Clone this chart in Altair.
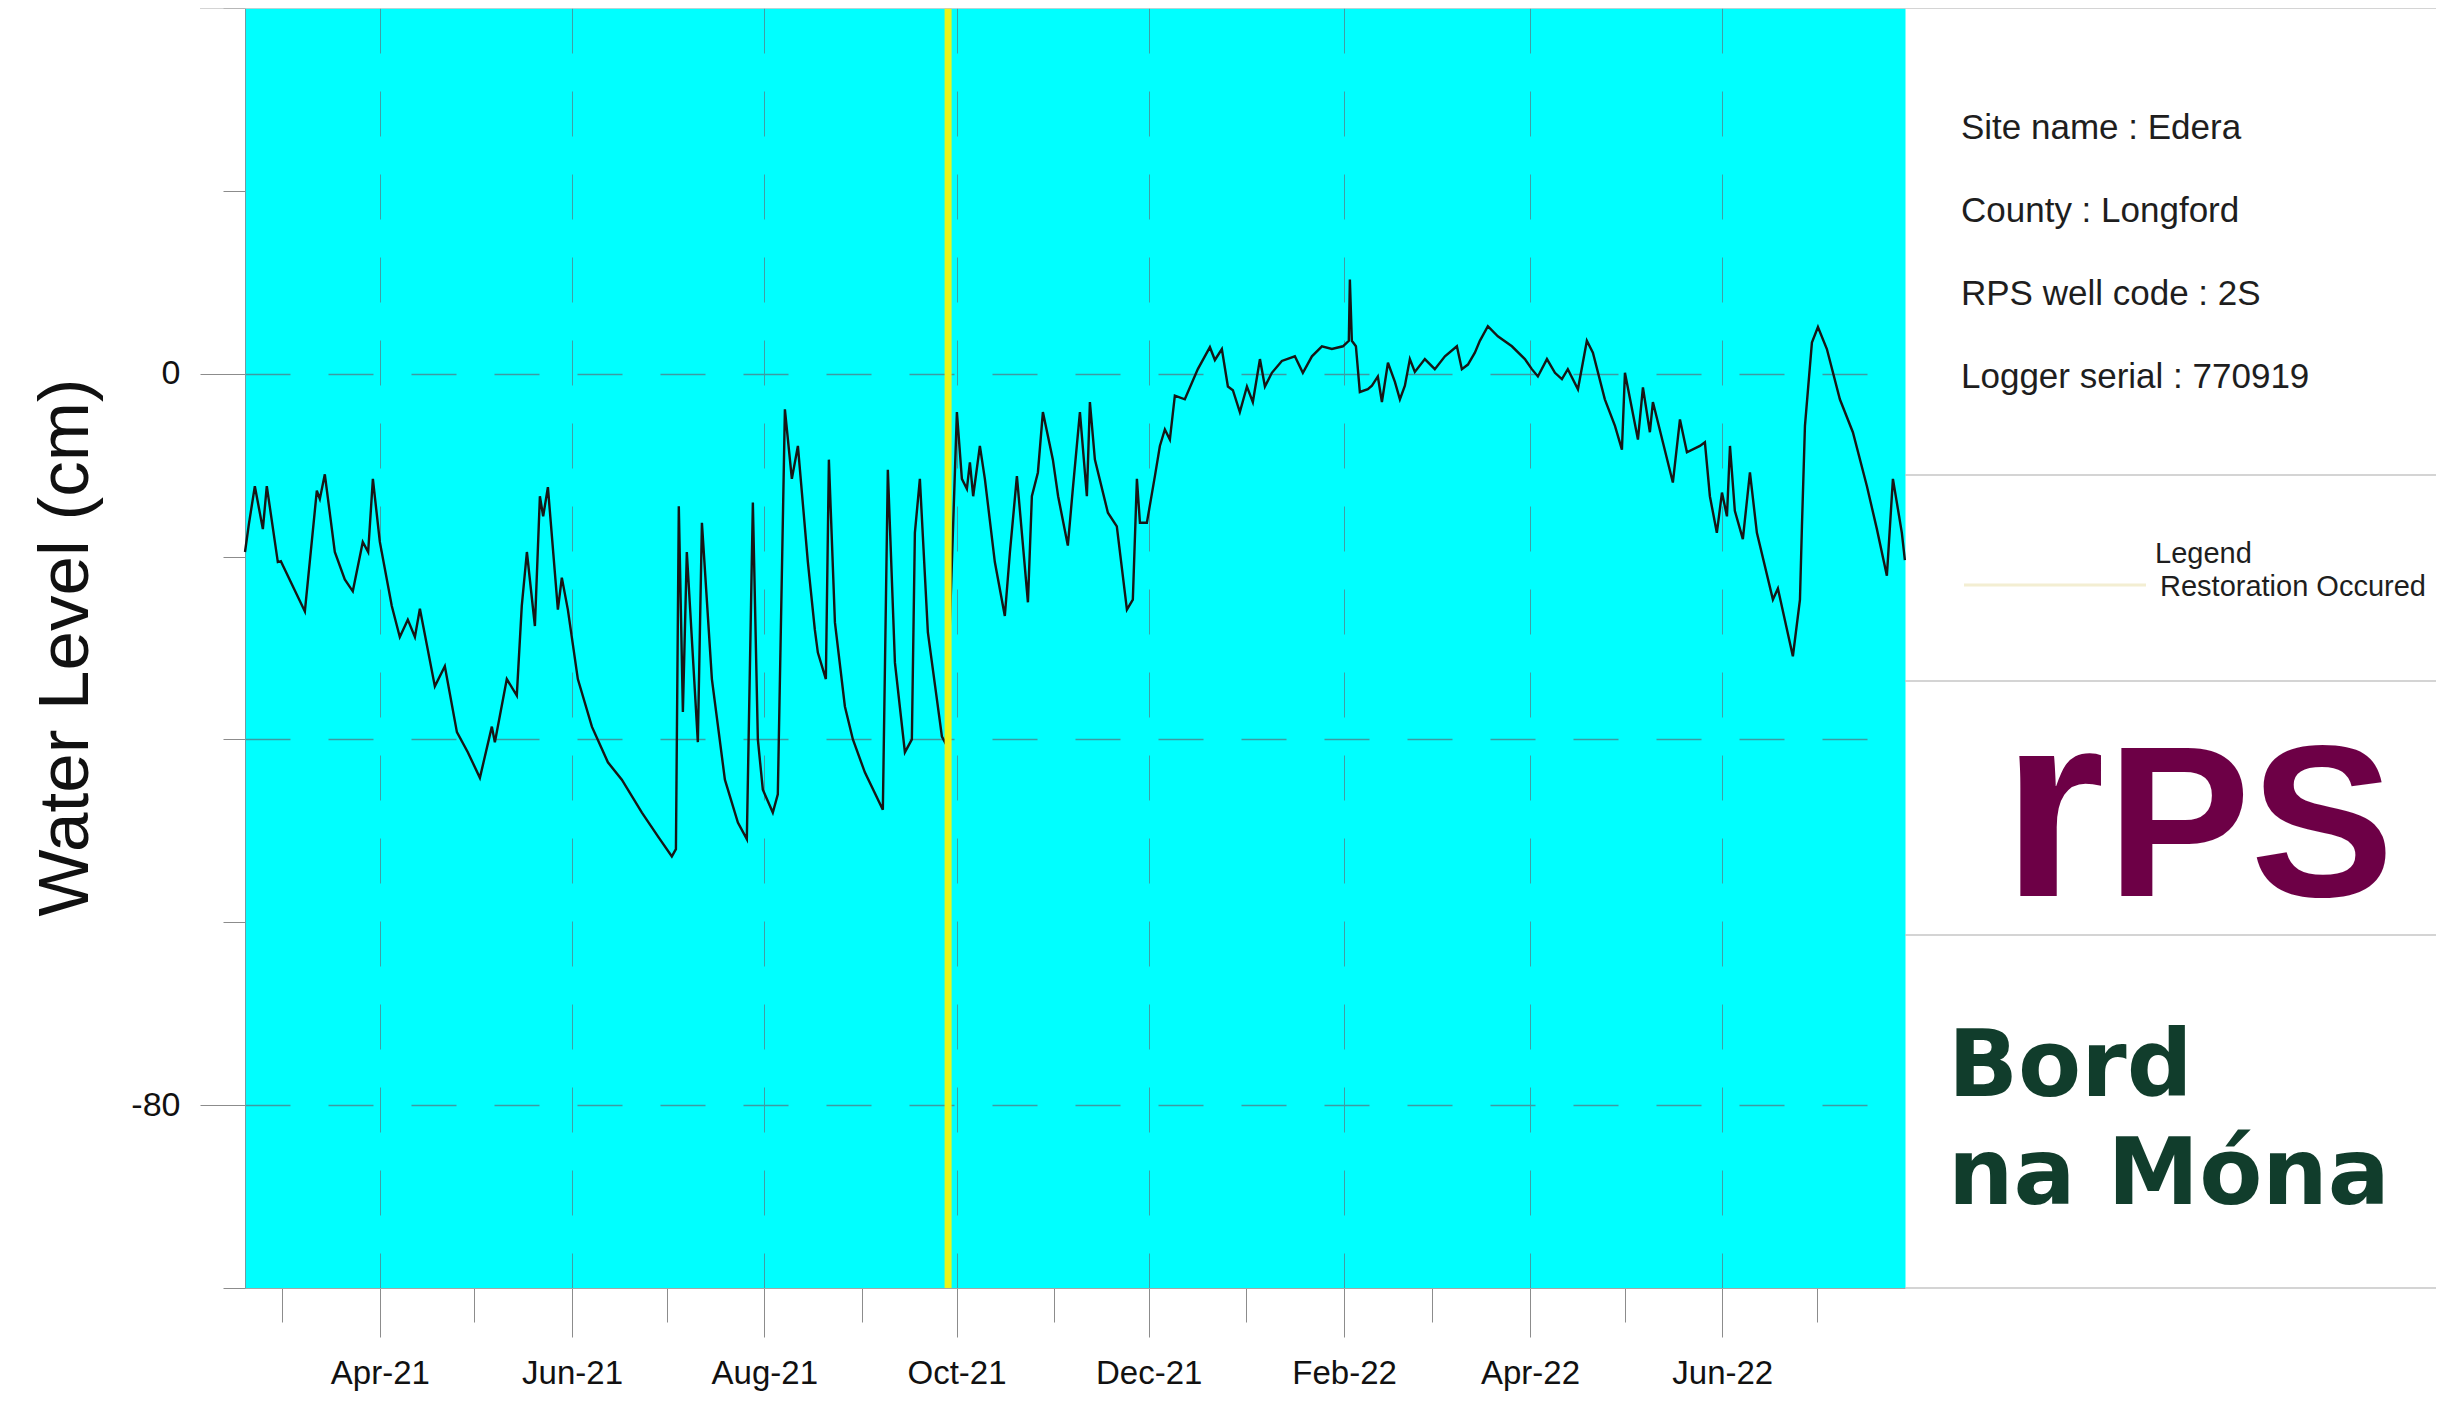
import altair as alt
import pandas as pd

# ---------------- data ----------------
dates = [
    "2021-02-17 05:00", "2021-02-18 10:00", "2021-02-20 08:00", "2021-02-22 21:00", "2021-02-24 03:00",
    "2021-02-27 15:00", "2021-02-28 14:00", "2021-03-08 05:00", "2021-03-12 00:00", "2021-03-12 23:00",
    "2021-03-14 13:00", "2021-03-17 17:00", "2021-03-20 21:00", "2021-03-23 10:00", "2021-03-26 14:00",
    "2021-03-28 07:00", "2021-03-29 19:00", "2021-04-01 00:00", "2021-04-04 19:00", "2021-04-07 08:00",
    "2021-04-09 21:00", "2021-04-12 03:00", "2021-04-13 17:00", "2021-04-18 11:00", "2021-04-21 15:00",
    "2021-04-25 11:00", "2021-04-28 22:00", "2021-05-02 18:00", "2021-05-06 13:00", "2021-05-07 12:00",
    "2021-05-11 07:00", "2021-05-14 11:00", "2021-05-16 01:00", "2021-05-17 16:00", "2021-05-20 05:00",
    "2021-05-21 19:00", "2021-05-22 20:00", "2021-05-24 08:00", "2021-05-27 12:00", "2021-05-28 18:00",
    "2021-05-30 16:00", "2021-06-02 20:00", "2021-06-07 07:00", "2021-06-12 09:00", "2021-06-16 19:00",
    "2021-06-23 04:00", "2021-06-28 06:00", "2021-07-02 16:00", "2021-07-03 23:00", "2021-07-04 21:00",
    "2021-07-06 04:00", "2021-07-07 10:00", "2021-07-10 22:00", "2021-07-12 05:00", "2021-07-15 09:00",
    "2021-07-19 12:00", "2021-07-23 15:00", "2021-07-26 11:00", "2021-07-28 09:00", "2021-07-29 23:00",
    "2021-07-31 13:00", "2021-08-03 17:00", "2021-08-05 07:00", "2021-08-07 13:00", "2021-08-09 18:00",
    "2021-08-11 16:00", "2021-08-14 20:00", "2021-08-17 01:00", "2021-08-18 00:00", "2021-08-20 13:00",
    "2021-08-21 12:00", "2021-08-23 10:00", "2021-08-26 14:00", "2021-08-29 03:00", "2021-09-01 22:00",
    "2021-09-07 15:00", "2021-09-09 05:00", "2021-09-11 11:00", "2021-09-14 15:00", "2021-09-16 20:00",
    "2021-09-17 19:00", "2021-09-19 09:00", "2021-09-21 22:00", "2021-09-26 09:00", "2021-09-27 15:00",
    "2021-10-01 03:00", "2021-10-02 17:00", "2021-10-04 07:00", "2021-10-05 06:00", "2021-10-06 07:00",
    "2021-10-08 10:00", "2021-10-10 00:00", "2021-10-13 04:00", "2021-10-16 08:00", "2021-10-17 23:00",
    "2021-10-20 04:00", "2021-10-23 16:00", "2021-10-24 22:00", "2021-10-26 20:00", "2021-10-28 10:00",
    "2021-10-31 14:00", "2021-11-02 06:00", "2021-11-05 08:00", "2021-11-06 22:00", "2021-11-09 04:00",
    "2021-11-11 09:00", "2021-11-12 08:00", "2021-11-13 22:00", "2021-11-18 01:00", "2021-11-20 21:00",
    "2021-11-24 02:00", "2021-11-25 23:00", "2021-11-27 06:00", "2021-11-28 05:00", "2021-11-30 10:00",
    "2021-12-02 23:00", "2021-12-04 13:00", "2021-12-06 03:00", "2021-12-07 17:00", "2021-12-09 07:00",
    "2021-12-12 11:00", "2021-12-16 14:00", "2021-12-20 10:00", "2021-12-22 00:00", "2021-12-24 05:00",
    "2021-12-26 03:00", "2021-12-27 17:00", "2021-12-29 22:00", "2022-01-01 04:00", "2022-01-03 01:00",
    "2022-01-05 07:00", "2022-01-06 21:00", "2022-01-09 02:00", "2022-01-12 06:00", "2022-01-16 09:00",
    "2022-01-18 22:00", "2022-01-21 19:00", "2022-01-24 23:00", "2022-01-28 03:00", "2022-01-31 15:00",
    "2022-02-02 12:00", "2022-02-02 20:00", "2022-02-03 11:00", "2022-02-04 18:00", "2022-02-06 00:00",
    "2022-02-08 13:00", "2022-02-09 20:00", "2022-02-11 17:00", "2022-02-13 00:00", "2022-02-14 22:00",
    "2022-02-17 03:00", "2022-02-18 17:00", "2022-02-20 07:00", "2022-02-21 21:00", "2022-02-23 11:00",
    "2022-02-26 15:00", "2022-03-01 19:00", "2022-03-05 00:00", "2022-03-08 19:00", "2022-03-10 09:00",
    "2022-03-12 07:00", "2022-03-14 12:00", "2022-03-16 02:00", "2022-03-18 15:00", "2022-03-21 19:00",
    "2022-03-26 06:00", "2022-03-30 09:00", "2022-04-01 14:00", "2022-04-03 12:00", "2022-04-06 09:00",
    "2022-04-08 22:00", "2022-04-11 03:00", "2022-04-13 00:00", "2022-04-16 05:00", "2022-04-19 01:00",
    "2022-04-20 23:00", "2022-04-24 18:00", "2022-04-27 23:00", "2022-04-30 04:00", "2022-05-01 03:00",
    "2022-05-05 06:00", "2022-05-06 20:00", "2022-05-09 01:00", "2022-05-10 00:00", "2022-05-13 04:00",
    "2022-05-16 08:00", "2022-05-18 14:00", "2022-05-20 19:00", "2022-05-24 22:00", "2022-05-26 12:00",
    "2022-05-28 02:00", "2022-05-30 07:00", "2022-05-31 22:00", "2022-06-02 12:00", "2022-06-03 11:00",
    "2022-06-05 00:00", "2022-06-07 13:00", "2022-06-09 19:00", "2022-06-12 00:00", "2022-06-17 02:00",
    "2022-06-18 16:00", "2022-06-23 10:00", "2022-06-25 16:00", "2022-06-26 07:00", "2022-06-27 06:00",
    "2022-06-29 11:00", "2022-07-01 09:00", "2022-07-04 05:00", "2022-07-08 08:00", "2022-07-12 11:00",
    "2022-07-16 22:00", "2022-07-20 02:00", "2022-07-23 06:00", "2022-07-25 04:00", "2022-07-28 00:00",
    "2022-07-28 23:00",
]
levels = [
    -19.5, -16.5, -12.3, -17.0, -12.3,
    -20.6, -20.5, -26.0, -12.8, -13.7,
    -11.0, -19.5, -22.5, -23.8, -18.4,
    -19.5, -11.5, -18.4, -25.4, -28.8,
    -26.9, -28.8, -25.7, -34.2, -32.0,
    -39.2, -41.4, -44.2, -38.6, -40.3,
    -33.4, -35.2, -25.4, -19.5, -27.6,
    -13.4, -15.6, -12.4, -25.8, -22.3,
    -25.8, -33.4, -38.6, -42.5, -44.4,
    -48.0, -50.6, -52.8, -52.0, -14.5,
    -37.0, -19.5, -40.3, -16.3, -33.4,
    -44.4, -49.1, -50.9, -14.1, -40.0,
    -45.5, -48.0, -46.0, -3.9, -11.5,
    -7.9, -20.6, -28.0, -30.5, -33.4,
    -9.4, -27.2, -36.4, -40.0, -43.6,
    -47.7, -10.5, -31.6, -41.4, -40.0,
    -17.4, -11.5, -28.3, -39.7, -40.5,
    -4.2, -11.5, -12.6, -9.7, -13.4,
    -7.9, -11.5, -20.6, -26.5, -19.5,
    -11.2, -25.0, -13.4, -10.8, -4.2,
    -9.4, -13.4, -18.8, -12.6, -4.2,
    -13.4, -3.1, -9.4, -15.2, -16.7,
    -25.8, -24.7, -11.5, -16.3, -16.3,
    -11.2, -7.9, -6.1, -7.2, -2.4,
    -2.8, 0.5, 2.9, 1.5, 2.7,
    -1.4, -1.8, -4.2, -1.4, -3.1,
    1.6, -1.4, 0.1, 1.4, 1.9,
    0.1, 1.9, 3.0, 2.7, 3.0,
    3.6, 10.3, 3.6, 3.0, -2.0,
    -1.7, -1.3, -0.3, -3.1, 1.2,
    -0.9, -2.8, -1.3, 1.6, 0.2,
    1.6, 0.5, 1.9, 3.0, 0.5,
    1.0, 2.3, 3.6, 5.2, 4.1,
    3.0, 1.6, 0.5, -0.3, 1.6,
    0.1, -0.6, 0.5, -1.7, 3.6,
    2.3, -2.8, -5.7, -8.3, 0.1,
    -7.2, -1.5, -6.4, -3.1, -7.5,
    -11.9, -5.0, -8.6, -7.9, -7.5,
    -13.4, -17.4, -13.0, -15.6, -7.9,
    -15.0, -18.1, -10.8, -17.4, -24.7,
    -23.5, -30.9, -24.7, -16.7, -5.7,
    3.4, 5.1, 2.7, -2.8, -6.4,
    -12.3, -17.0, -22.1, -11.5, -17.4,
    -20.4,
]
restoration_dates = ["2021-09-28 08:00"]
month_ticks = [(2021, m) for m in range(3, 13)] + [(2022, m) for m in range(1, 8)]
y_ticks = [40, 20, 0, -20, -40, -60, -80, -100]
y_title = "Water Level (cm)"
info_lines = ["Site name : Edera", "County : Longford", "RPS well code : 2S", "Logger serial : 770919"]
legend_title = "Legend"
legend_label = "Restoration Occured"
logo_rps = ["r", "PS"]
logo_bnm = ["Bord", "na Móna"]

# ---------------- chart ----------------
FONT = "Liberation Sans"
W, H = 1660, 1280
df = pd.DataFrame({"date": dates, "level": levels})
rdf = pd.DataFrame({"date": restoration_dates})
one = pd.DataFrame({"k": [0]})

x_scale = alt.Scale(
    type="time",
    domain=[alt.DateTime(year=2021, month=2, date=17, hours=5),
            alt.DateTime(year=2022, month=7, date=29)],
)
y_scale = alt.Scale(domain=[-100, 40], nice=False, zero=False)

MAJX = "month(datum.value) % 2 == 1"
x_axis = alt.Axis(
    values=[alt.DateTime(year=y, month=m, date=1) for y, m in month_ticks],
    labelExpr=f"{MAJX} ? timeFormat(datum.value, '%b-%y') : ''",
    tickSize={"condition": {"test": MAJX, "value": 49}, "value": 34},
    grid=True,
    gridOpacity={"condition": {"test": MAJX, "value": 1}, "value": 0},
    gridDash=[45, 38], gridColor="#3e9fa6", gridWidth=1,
    domainColor="#a6a6a6", tickColor="#8c8c8c", tickWidth=1,
    labelFont=FONT, labelFontSize=33, labelColor="#111111", labelPadding=20,
    labelOverlap=False, labelFlush=False, title=None,
)

MAJY = "datum.value == 0 || datum.value == -80"
GRIDY = "datum.value == 0 || datum.value == -40 || datum.value == -80"
y_axis = alt.Axis(
    values=y_ticks,
    labelExpr=f"({MAJY}) ? '' + datum.value : ''",
    tickSize={"condition": {"test": MAJY, "value": 45}, "value": 22},
    grid=True,
    gridOpacity={"condition": {"test": GRIDY, "value": 1}, "value": 0},
    gridDash=[45, 38], gridColor="#3e9aa2", gridWidth=1.5,
    domainColor="#6f9ea2", tickColor="#8c8c8c", tickWidth=1,
    labelFont=FONT, labelFontSize=34, labelColor="#111111", labelPadding=20,
    labelOverlap=False, labelFlush=False,
    title=y_title, titleFont=FONT, titleFontSize=71, titleFontWeight="normal",
    titleColor="#111111", titleX=-179, titleY=639, titleAngle=270,
    titleAlign="center", titleBaseline="middle",
)

line = alt.Chart(df).mark_line(color="#161616", strokeWidth=2.4).encode(
    x=alt.X("date:T", scale=x_scale, axis=x_axis),
    y=alt.Y("level:Q", scale=y_scale, axis=y_axis),
)
restoration = alt.Chart(rdf).mark_rule(color="#e8f41c", strokeWidth=7).encode(x="date:T")


def hrule(y, x1, x2, color="#c6c6c6", width=1.5):
    return alt.Chart(one).mark_rule(color=color, strokeWidth=width).encode(
        x=alt.value(x1), x2=alt.value(x2), y=alt.value(y))


def label(text, x, y, size, color="#1e1e1e", align="left", weight="normal", font=FONT):
    return alt.Chart(one).mark_text(
        text=text, font=font, fontSize=size, color=color, align=align,
        baseline="alphabetic", fontWeight=weight,
    ).encode(x=alt.value(x), y=alt.value(y))


layers = [line, restoration]
# frame / panel separators
layers += [hrule(0, -45, 2191), hrule(467, W, 2191), hrule(673, W, 2191),
           hrule(927, W, 2191), hrule(H, W, 2191)]
# info block
for i, s in enumerate(info_lines):
    layers.append(label(s, 1716, 131 + 83 * i, 35))
# legend
layers.append(hrule(577, 1719, 1901, color="#f3eed2", width=3))
layers.append(label(legend_title, 1910, 555, 29))
layers.append(label(legend_label, 1915, 588, 29))
# rps logo
RPS = "#6d0046"
layers.append(label(logo_rps[0], 1860, 888, 265, color=RPS, align="right", weight="bold"))
layers.append(label(logo_rps[1], 1862, 888, 215, color=RPS, align="left", weight="bold"))
# Bord na Mona logo
BNM = "#113d2c"
layers.append(label(logo_bnm[0], 1703, 1088, 92, color=BNM, weight="bold", font="DejaVu Sans"))
layers.append(label(logo_bnm[1], 1703, 1196, 92, color=BNM, weight="bold", font="DejaVu Sans"))

chart = alt.layer(*layers).properties(
    width=W, height=H,
    autosize=alt.AutoSizeParams(type="none"),
    padding={"left": 237, "top": 0, "right": 531, "bottom": 105},
    background="white",
).configure_view(fill="#00ffff", strokeOpacity=0)

chart.save("out.html", embed_options={"renderer": "svg", "actions": False})
